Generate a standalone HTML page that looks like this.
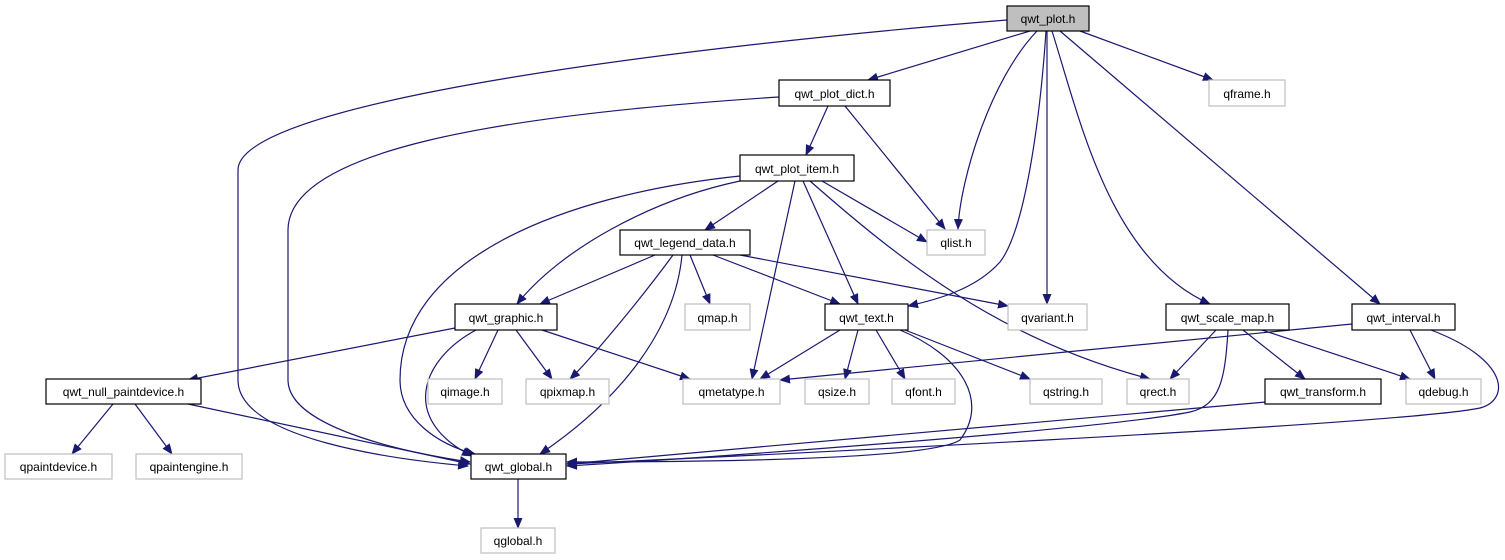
<!DOCTYPE html>
<html><head><meta charset="utf-8"><style>
html,body{margin:0;padding:0;background:#fff;}
svg{display:block;}
text{font-family:"Liberation Sans",sans-serif;font-size:12px;fill:#000;}
</style></head><body>
<svg width="1505" height="560" viewBox="0 0 1505 560" xmlns="http://www.w3.org/2000/svg">
<defs>
<marker id="a" markerWidth="11" markerHeight="9" refX="10" refY="4.5" orient="auto" markerUnits="userSpaceOnUse">
<path d="M0,0 L11,4.5 L0,9 Z" fill="#191970"/>
</marker>
</defs>
<g fill="none" stroke="#191970" stroke-width="1.2" marker-end="url(#a)">
<path d="M1007,20 C700,45 238,100 238,170 L238,380 C238,440 400,460 468,466"/>
<path d="M1030,31 L868,80"/>
<path d="M1037,31 C990,80 960,180 958,229"/>
<path d="M1046,31 C1040,120 1025,230 1000,262 C975,290 935,300 908,306"/>
<path d="M1047,31 L1047,304"/>
<path d="M1052,31 C1080,120 1110,260 1210,304"/>
<path d="M1060,31 L1380,304"/>
<path d="M1080,31 L1213,80"/>
<path d="M779,97 C500,115 288,150 288,230 L288,380 C288,430 420,455 470,462"/>
<path d="M828,106 L806,155"/>
<path d="M845,106 L945,229"/>
<path d="M740,176 C560,195 400,260 400,380 C400,420 440,445 475,454"/>
<path d="M740,181 C650,200 560,250 517,304"/>
<path d="M778,181 L705,230"/>
<path d="M795,181 C780,250 760,340 752,379"/>
<path d="M803,181 L858,304"/>
<path d="M810,181 C900,260 1000,340 1150,379"/>
<path d="M822,181 L927,242"/>
<path d="M655,255 L540,304"/>
<path d="M673,255 C640,300 590,360 570,379"/>
<path d="M682,255 C675,330 620,400 540,454"/>
<path d="M690,255 L710,304"/>
<path d="M713,255 L840,304"/>
<path d="M740,255 L1008,306"/>
<path d="M455,328 L188,380"/>
<path d="M476,330 C420,360 400,420 472,456"/>
<path d="M498,330 L475,379"/>
<path d="M516,330 L552,379"/>
<path d="M542,330 L690,379"/>
<path d="M840,330 L760,379"/>
<path d="M858,330 L845,379"/>
<path d="M876,330 L905,379"/>
<path d="M905,330 L1030,379"/>
<path d="M900,330 C960,355 990,400 960,440 C930,460 700,462 567,462"/>
<path d="M1216,330 L1170,379"/>
<path d="M1228,330 C1225,380 1220,405 1190,412 C1100,430 700,458 567,466"/>
<path d="M1243,330 L1305,379"/>
<path d="M1262,330 L1410,379"/>
<path d="M1352,324 L780,380"/>
<path d="M1410,330 L1435,379"/>
<path d="M1431,330 C1510,360 1510,400 1480,408 C1400,425 700,458 567,464"/>
<path d="M1266,402 L567,464"/>
<path d="M113,404 L72,454"/>
<path d="M135,404 L172,454"/>
<path d="M188,404 L470,464"/>
<path d="M518,479 L518,528"/>
</g>
<g stroke-width="1.2">
<rect x="1007" y="6" width="82" height="25" fill="#bfbfbf" stroke="#000"/>
<rect x="779" y="80" width="111" height="26" fill="#fff" stroke="#000"/>
<rect x="1209" y="80" width="76" height="26" fill="#fff" stroke="#bfbfbf"/>
<rect x="740" y="155" width="114" height="26" fill="#fff" stroke="#000"/>
<rect x="620" y="230" width="130" height="25" fill="#fff" stroke="#000"/>
<rect x="927" y="230" width="58" height="25" fill="#fff" stroke="#bfbfbf"/>
<rect x="455" y="304" width="102" height="26" fill="#fff" stroke="#000"/>
<rect x="685" y="304" width="65" height="26" fill="#fff" stroke="#bfbfbf"/>
<rect x="825" y="304" width="83" height="26" fill="#fff" stroke="#000"/>
<rect x="1008" y="304" width="79" height="26" fill="#fff" stroke="#bfbfbf"/>
<rect x="1166" y="304" width="123" height="26" fill="#fff" stroke="#000"/>
<rect x="1352" y="304" width="103" height="26" fill="#fff" stroke="#000"/>
<rect x="46" y="379" width="155" height="25" fill="#fff" stroke="#000"/>
<rect x="428" y="379" width="74" height="25" fill="#fff" stroke="#bfbfbf"/>
<rect x="526" y="379" width="83" height="25" fill="#fff" stroke="#bfbfbf"/>
<rect x="683" y="379" width="97" height="25" fill="#fff" stroke="#bfbfbf"/>
<rect x="805" y="379" width="64" height="25" fill="#fff" stroke="#bfbfbf"/>
<rect x="892" y="379" width="63" height="25" fill="#fff" stroke="#bfbfbf"/>
<rect x="1030" y="379" width="72" height="25" fill="#fff" stroke="#bfbfbf"/>
<rect x="1127" y="379" width="62" height="25" fill="#fff" stroke="#bfbfbf"/>
<rect x="1265" y="379" width="116" height="25" fill="#fff" stroke="#000"/>
<rect x="1406" y="379" width="75" height="25" fill="#fff" stroke="#bfbfbf"/>
<rect x="5" y="454" width="107" height="25" fill="#fff" stroke="#bfbfbf"/>
<rect x="136" y="454" width="106" height="25" fill="#fff" stroke="#bfbfbf"/>
<rect x="471" y="454" width="95" height="25" fill="#fff" stroke="#000"/>
<rect x="481" y="528" width="74" height="25" fill="#fff" stroke="#bfbfbf"/>
</g>
<g text-anchor="middle">
<text x="1048" y="23">qwt_plot.h</text>
<text x="834.5" y="98">qwt_plot_dict.h</text>
<text x="1247" y="98">qframe.h</text>
<text x="797" y="173">qwt_plot_item.h</text>
<text x="685" y="247">qwt_legend_data.h</text>
<text x="956" y="247">qlist.h</text>
<text x="506" y="322">qwt_graphic.h</text>
<text x="717.5" y="322">qmap.h</text>
<text x="866.5" y="322">qwt_text.h</text>
<text x="1047.5" y="322">qvariant.h</text>
<text x="1227.5" y="322">qwt_scale_map.h</text>
<text x="1403.5" y="322">qwt_interval.h</text>
<text x="123.5" y="396">qwt_null_paintdevice.h</text>
<text x="465" y="396">qimage.h</text>
<text x="567.5" y="396">qpixmap.h</text>
<text x="731.5" y="396">qmetatype.h</text>
<text x="837" y="396">qsize.h</text>
<text x="923.5" y="396">qfont.h</text>
<text x="1066" y="396">qstring.h</text>
<text x="1158" y="396">qrect.h</text>
<text x="1323" y="396">qwt_transform.h</text>
<text x="1443.5" y="396">qdebug.h</text>
<text x="58.5" y="471">qpaintdevice.h</text>
<text x="189" y="471">qpaintengine.h</text>
<text x="518.5" y="471">qwt_global.h</text>
<text x="518" y="545">qglobal.h</text>
</g>
</svg>
</body></html>
